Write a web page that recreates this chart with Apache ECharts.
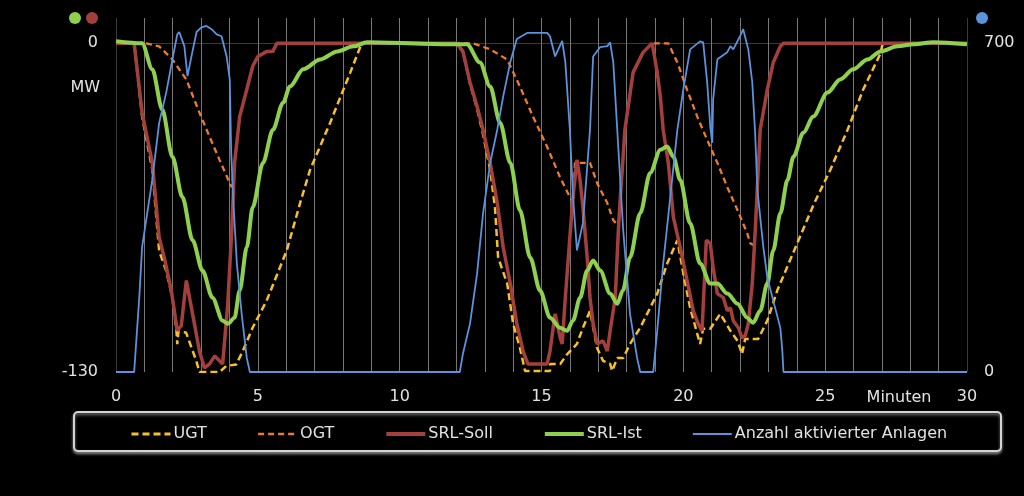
<!DOCTYPE html>
<html>
<head>
<meta charset="utf-8">
<script src="https://cdn.jsdelivr.net/npm/echarts@6/dist/echarts.min.js"></script>
<style>
  html, body { margin: 0; padding: 0; background: #000; }
  #chart { width: 1024px; height: 496px; }
</style>
</head>
<body>
<div id="chart"></div>
<script>
// Minuten / MW (left axis) and Anzahl (right axis)
const seriesNames = ["UGT", "OGT", "SRL-Soll", "SRL-Ist", "Anzahl aktivierter Anlagen"];
const xTicks = [0, 5, 10, 15, 20, 25, 30];
const leftTicks = [-130, 0];
const rightTicks = [0, 700];

const ugt = [[0,0],[0.64,0],[0.92,-29],[1.28,-50],[1.52,-82],[1.77,-90],[1.99,-100.6],[2.13,-113.7],[2.16,-119],[2.2,-114],
  [2.47,-114.4],[2.83,-125.6],[2.94,-130],[3.65,-130],[3.89,-127.6],[4.24,-127],[4.47,-121.7],[4.82,-112.4],[5.31,-101.8],
  [6.02,-81.9],[6.49,-63.2],[6.84,-50.1],[7.55,-31.4],[8.26,-11.5],[8.66,0],
  [12.02,0],[12.23,-3.5],[12.48,-16],[12.73,-26],[12.94,-36],[13.19,-50],[13.36,-65],[13.47,-84.7],[13.79,-95],[14.0,-110.9],
  [14.24,-120.5],[14.42,-129.6],[15.30,-129.6],[15.31,-126.8],[15.66,-126.8],[15.91,-122.9],[16.25,-118.9],[16.46,-112.5],
  [16.71,-105.8],[16.96,-120.5],[17.17,-125.6],[17.42,-126.8],[17.49,-129.6],[17.67,-124.5],[17.88,-124.5],[18.12,-118.9],
  [18.48,-112.5],[19.08,-99],[19.43,-87.1],[19.79,-77.9],[20.0,-91],[20.24,-104.6],[20.49,-114.9],[20.59,-118.9],[20.70,-112.9],
  [20.95,-112.9],[21.30,-107],[21.66,-113.7],[21.91,-117.7],[22.07,-122.9],[22.18,-116.9],[22.64,-116.9],[22.96,-109.7],
  [23.31,-97.8],[24.0,-79.5],[24.6,-63.6],[25.18,-50.1],[25.79,-34.2],[26.34,-18.3],[26.95,-4],[27.03,0],[30,0]];

const ogt = [[0,0],[1.06,0],[1.52,-1.2],[1.99,-6.4],[2.48,-14.3],[2.94,-27.4],[3.30,-37],[3.65,-46.1],[4.01,-55.3],[4.08,-56.9],
  [4.13,-57],[4.18,-47.3],[4.36,-29],[4.61,-18.3],[4.82,-9.1],[5.0,-5.2],[5.32,-3.2],[5.53,-3.2],[5.67,0],
  [12.58,0],[13.19,-2.4],[13.79,-6.4],[14.24,-17.1],[14.70,-29],[15.20,-41],[15.65,-52.9],[16.0,-60.8],[16.11,-63.2],[16.18,-47.3],
  [16.71,-47.3],[16.96,-55.3],[17.32,-63.2],[17.53,-70],[17.70,-72],[17.78,-60.8],[17.95,-34.2],[18.23,-11.5],[18.58,-3.6],[18.90,0],
  [19.47,0],[19.79,-7.6],[20.13,-18.3],[20.49,-29],[20.84,-38.2],[21.20,-47.3],[21.55,-56.9],[21.91,-66],[22.25,-75.1],[22.36,-79.1],
  [22.5,-80],[22.53,-75.1],[22.71,-34.2],[22.96,-18.3],[23.17,-7.6],[23.42,-1.2],[23.53,0],[30,0]];

const srlSoll = [[0,0],[0.64,0],[0.92,-27.4],[1.28,-47.3],[1.52,-76.7],[1.70,-84.7],[1.95,-97.8],[2.16,-113.7],[2.3,-111.7],
  [2.48,-93.8],[2.70,-107],[2.94,-121.7],[3.12,-128.4],[3.30,-126.8],[3.48,-123.7],[3.65,-125.6],[3.76,-126.8],[3.94,-103],
  [4.08,-74],[4.18,-47.3],[4.36,-29],[4.61,-18.3],[4.82,-9.1],[5.0,-5.2],[5.32,-3.2],[5.53,-3.2],[5.67,0],
  [12.02,0],[12.23,-3.2],[12.48,-15.5],[12.73,-25],[12.94,-34.2],[13.19,-47.3],[13.44,-63.2],[13.65,-80.7],[13.90,-95],
  [14.13,-110.9],[14.35,-121.7],[14.52,-126.8],[15.20,-126.8],[15.30,-121.7],[15.48,-107],[15.66,-116.5],[15.73,-118.9],
  [15.84,-100.6],[16.0,-76.7],[16.11,-60.8],[16.25,-46.1],[16.36,-54.1],[16.46,-64.8],[16.61,-84.7],[16.71,-100.6],
  [16.82,-110.9],[16.96,-118.9],[17.17,-117.7],[17.32,-121.7],[17.42,-113.7],[17.60,-100.6],[17.71,-74],[17.78,-60.8],
  [17.94,-34.2],[18.23,-11.5],[18.58,-3.6],[18.90,0],[19.08,-11.5],[19.19,-21.1],[19.29,-34.2],[19.47,-47.3],[19.65,-68.8],
  [19.89,-80.7],[20.13,-93.8],[20.35,-105.8],[20.52,-110.9],[20.66,-113.7],[20.81,-77.9],[20.95,-79.1],[21.05,-88.7],
  [21.20,-99],[21.41,-100.6],[21.55,-105.8],[21.66,-104.6],[21.76,-109.7],[21.94,-112.5],[22.07,-116.5],[22.18,-115.7],
  [22.29,-110.9],[22.43,-95],[22.53,-75.1],[22.71,-34.2],[22.96,-18.3],[23.17,-7.6],[23.42,-1.2],[23.53,0],[30,0]];

const srlIst = [[0,0.8],[0.92,0],[1.28,-10.3],[1.63,-26.2],[1.99,-44.9],[2.34,-60.8],[2.70,-77.9],[3.05,-89.9],[3.40,-100.6],
  [3.76,-109.7],[3.94,-110.9],[4.18,-108.5],[4.36,-97.8],[4.61,-80.7],[4.82,-64.8],[5.18,-47.3],[5.53,-34.2],[5.89,-23.5],
  [6.13,-17.1],[6.60,-10.3],[7.20,-6.4],[7.80,-3.2],[8.37,-1.2],[8.85,0.4],[11.77,-0.4],[12.37,-0.4],[12.83,-7.6],[13.19,-17.1],
  [13.54,-31.4],[13.90,-47.3],[14.24,-66],[14.60,-84.7],[14.95,-97.8],[15.30,-108.5],[15.65,-112.5],[15.90,-113.7],[16.11,-109.7],
  [16.36,-100.6],[16.61,-89.9],[16.82,-85.9],[17.07,-89.9],[17.42,-99],[17.67,-103],[17.87,-97.8],[18.12,-84.7],[18.48,-67.2],
  [18.83,-51.3],[19.19,-42.1],[19.43,-40.8],[19.65,-44.9],[19.89,-54.1],[20.24,-71.2],[20.59,-87.1],[20.95,-95],[21.20,-95],
  [21.55,-99],[21.91,-103],[22.25,-108.5],[22.46,-110.5],[22.71,-105.8],[22.96,-95],[23.17,-81.9],[23.42,-67.2],[23.67,-54.1],
  [23.88,-44.9],[24.23,-35.4],[24.58,-29],[25.08,-19.5],[25.53,-14.3],[25.99,-10.3],[26.49,-6.4],[26.95,-3.2],[27.55,-1.2],
  [28.11,-0.4],[28.82,0.4],[30,-0.4]];

const anlagen = [[0,0],[0.64,0],[0.82,158],[0.92,266],[1.10,338],[1.28,410],[1.52,530],[1.77,595],[1.99,666],[2.16,719],
  [2.23,724],[2.41,694],[2.52,630],[2.66,672],[2.84,724],[3.01,734],[3.19,737],[3.37,730],[3.55,719],[3.72,715],[3.90,672],
  [4.01,623],[4.06,470],[4.13,370],[4.26,231],[4.43,124],[4.61,30],[4.72,0],
  [12.12,0],[12.23,39],[12.48,103],[12.73,210],[12.94,338],[13.19,445],[13.44,516],[13.65,587],[13.90,660],[14.13,709],
  [14.49,722],[15.20,722],[15.30,715],[15.48,672],[15.73,705],[15.84,660],[16.0,516],[16.11,373],[16.25,259],[16.46,317],
  [16.71,516],[16.82,672],[17.07,692],[17.32,694],[17.42,702],[17.53,660],[17.67,516],[17.88,302],[18.12,124],[18.37,30],
  [18.48,0],[18.94,0],[19.08,88],[19.29,231],[19.54,373],[19.79,516],[20.0,602],[20.24,687],[20.59,704],[20.70,702],
  [20.84,617],[20.95,522],[21.02,488],[21.05,580],[21.20,666],[21.55,681],[21.66,694],[21.76,687],[22.0,715],[22.11,730],
  [22.29,687],[22.43,617],[22.53,510],[22.61,388],[22.82,266],[22.96,201],[23.17,152],[23.42,94],[23.49,45],[23.53,0],[30,0]];

const textColor = "#e2e2e2";
const font = "DejaVu Sans";
const legendWidths = [3, 2.6, 4, 4, 2];

// minute grid: darker lines at both edges
const xGridColors = [];
for (let i = 0; i < 30; i++) xGridColors.push(i === 0 ? "#3a3a3a" : "#777777");

const chart = echarts.init(document.getElementById("chart"));
const option = {
  backgroundColor: "#000",
  animation: false,
  grid: { left: 116, right: 57, top: 18, bottom: 124, outerBoundsMode: "none" },
  xAxis: {
    type: "value", min: 0, max: 30, interval: 1,
    axisLine: { show: false }, axisTick: { show: false },
    axisLabel: {
      color: textColor, fontFamily: font, fontSize: 16, margin: 17,
      formatter: (v) => (xTicks.indexOf(v) >= 0 ? String(v) : "")
    },
    splitLine: { show: true, lineStyle: { color: xGridColors, width: 1 } }
  },
  yAxis: [
    {
      type: "value", min: -130, max: 10, interval: 130,
      axisLine: { show: false }, axisTick: { show: false },
      axisLabel: {
        color: textColor, fontFamily: font, fontSize: 16, margin: 18,
        formatter: (v) => (leftTicks.indexOf(v) >= 0 ? String(v) : "")
      },
      splitLine: { show: true, lineStyle: { color: ["rgba(0,0,0,0)", "#3a3a3a", "rgba(0,0,0,0)"] } }
    },
    {
      type: "value", min: 0, max: 700 * 140 / 130, interval: 700,
      axisLine: { show: false }, axisTick: { show: false },
      axisLabel: {
        color: textColor, fontFamily: font, fontSize: 16, margin: 17,
        formatter: (v) => (rightTicks.indexOf(v) >= 0 ? String(v) : "")
      },
      splitLine: { show: false }
    }
  ],
  legend: {
    data: seriesNames.map((n, i) => ({ name: n, lineStyle: { width: legendWidths[i] } })),
    left: 125, top: 421,
    itemWidth: 39, itemHeight: 14, itemGap: 50,
    itemStyle: { opacity: 0 },
    textStyle: { color: textColor, fontFamily: font, fontSize: 16, padding: [0, 0, 0, -2] },
    z: 10
  },
  graphic: [
    { type: "rect", z: 1, shape: { x: 74, y: 412, width: 927, height: 39, r: 4 },
      style: { fill: "#000", stroke: "#d4d4d4", lineWidth: 2, shadowColor: "rgba(160,160,160,0.8)", shadowBlur: 3, shadowOffsetY: 2 } },
    { type: "circle", shape: { cx: 75, cy: 18, r: 6 }, style: { fill: "#8fd14f" } },
    { type: "circle", shape: { cx: 92, cy: 18, r: 6 }, style: { fill: "#a3403d" } },
    { type: "circle", shape: { cx: 982, cy: 18, r: 6 }, style: { fill: "#5b93dc" } },
    { type: "text", style: { x: 100, y: 88, text: "MW", fill: textColor, font: "16px DejaVu Sans", textAlign: "right", textVerticalAlign: "middle" } },
    { type: "text", style: { x: 899, y: 398, text: "Minuten", fill: textColor, font: "16px DejaVu Sans", textAlign: "center", textVerticalAlign: "middle" } }
  ],
  series: [
    { name: seriesNames[0], type: "line", data: ugt, yAxisIndex: 0, symbol: "none", showSymbol: false,
      lineStyle: { color: "#f7c02b", width: 2.5, type: [7, 4] }, itemStyle: { color: "#f7c02b" } },
    { name: seriesNames[1], type: "line", data: ogt, yAxisIndex: 0, symbol: "none", showSymbol: false,
      lineStyle: { color: "#ec7b2f", width: 2.3, type: [6, 4] }, itemStyle: { color: "#ec7b2f" } },
    { name: seriesNames[2], type: "line", data: srlSoll, yAxisIndex: 0, symbol: "none", showSymbol: false,
      lineStyle: { color: "#a3403d", width: 3.5 }, itemStyle: { color: "#a3403d" } },
    { name: seriesNames[3], type: "line", data: srlIst, yAxisIndex: 0, symbol: "none", showSymbol: false,
      smooth: 0.3, smoothMonotone: "x",
      lineStyle: { color: "#8fd14f", width: 4 }, itemStyle: { color: "#8fd14f" } },
    { name: seriesNames[4], type: "line", data: anlagen, yAxisIndex: 1, symbol: "none", showSymbol: false,
      lineStyle: { color: "#5b93dc", width: 1.8 }, itemStyle: { color: "#5b93dc" } }
  ]
};
chart.setOption(option);
</script>
</body>
</html>
